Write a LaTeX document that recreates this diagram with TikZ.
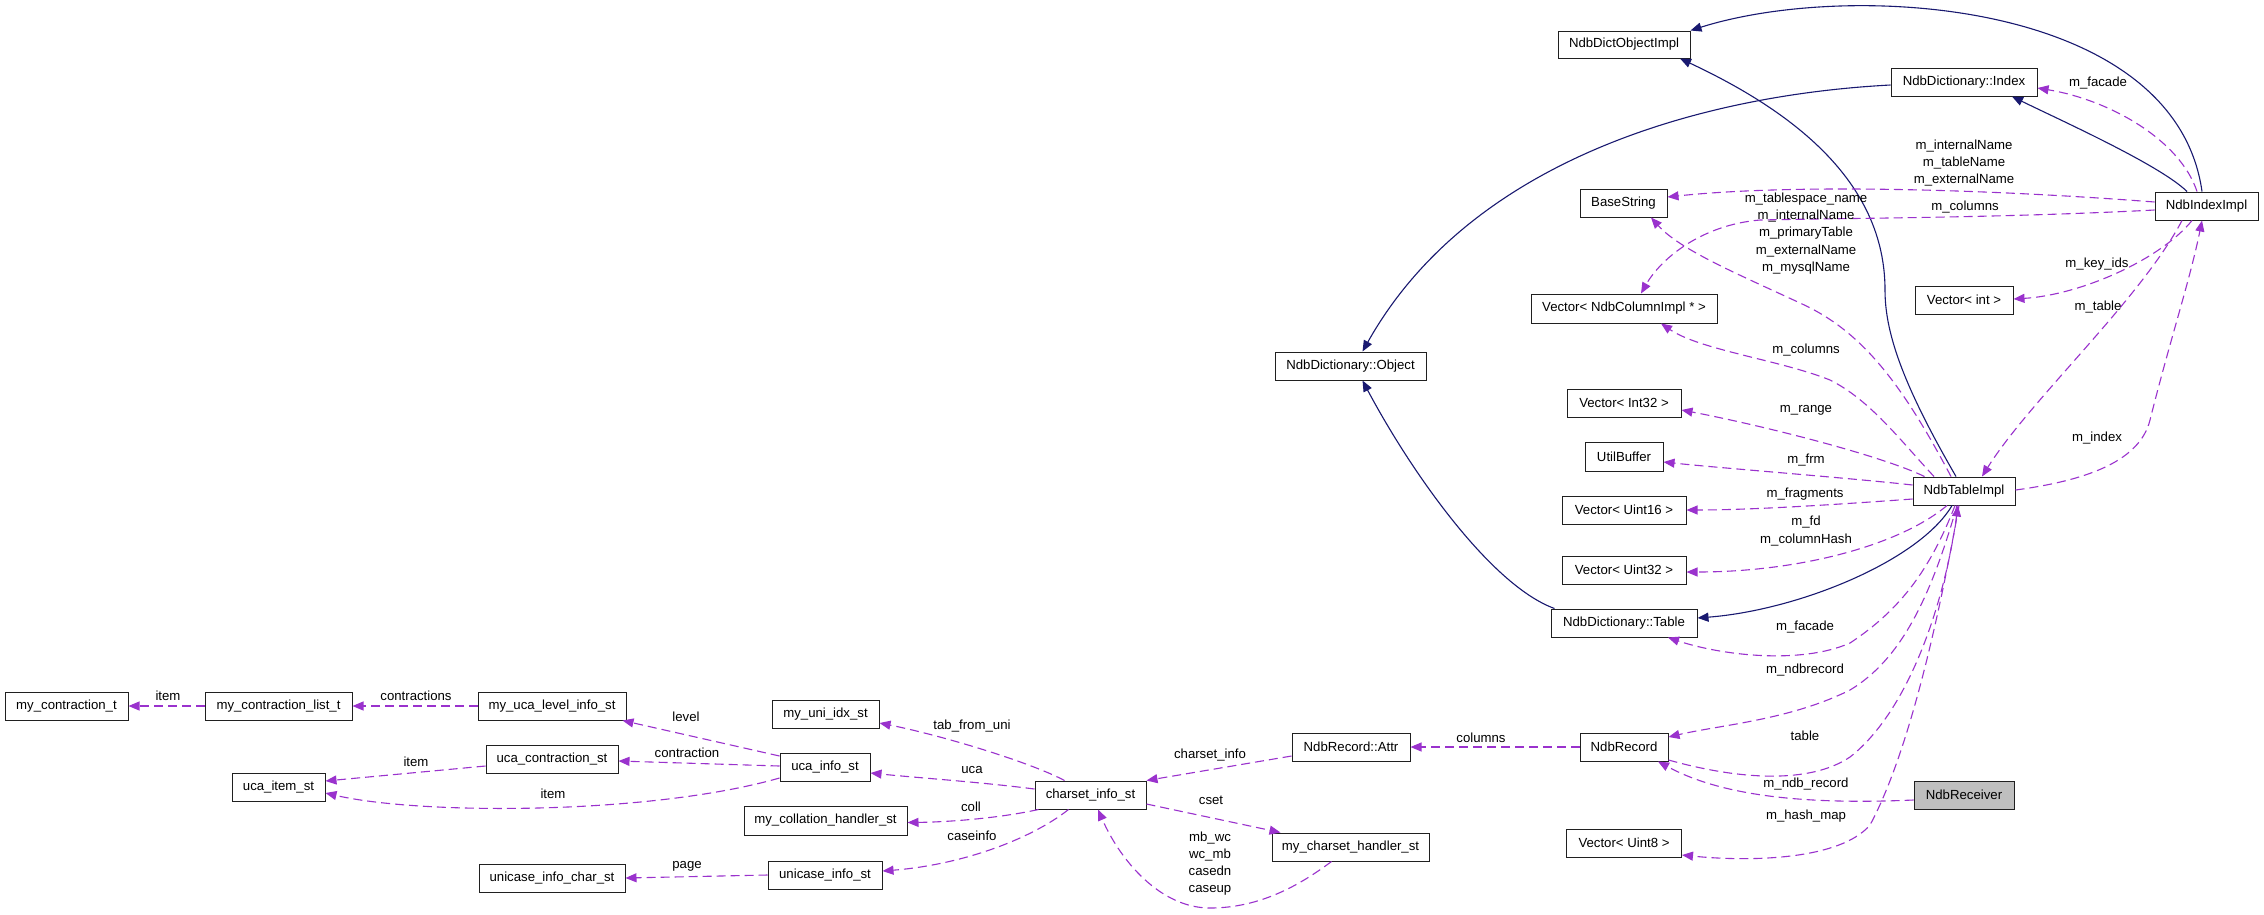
\documentclass[tikz,border=0pt]{standalone}
\usepackage{fontspec}
\setmainfont{Liberation Sans}
\usetikzlibrary{arrows.meta}
\definecolor{usecol}{HTML}{9A32CD}
\definecolor{inhcol}{HTML}{191970}
\definecolor{recvgray}{HTML}{BFBFBF}
\definecolor{boxline}{HTML}{202020}
\begin{document}
\begin{tikzpicture}[x=1pt,y=-1pt,
  box/.style={draw=boxline, line width=1pt, fill=white, minimum height=28pt, inner sep=0pt, font=\fontsize{13.2}{15}\selectfont},
  lbl/.style={font=\fontsize{13.2}{17.2}\selectfont, align=center, inner sep=0pt},
  inh/.style={draw=inhcol, line width=1.1pt, -{Triangle[length=11pt,width=9pt]}},
  use/.style={draw=usecol, line width=1.1pt, dash pattern=on 9pt off 5pt, -{Triangle[length=11pt,width=9pt]}}]
\useasboundingbox (0,0) rectangle (2264,914);
\fill[white] (0,0) rectangle (2264,914);

% nodes
\node[box, minimum width=132pt, minimum height=27pt] (dictobj) at (1624,44.5) {NdbDictObjectImpl};
\node[box, minimum width=146pt] (idx) at (1964,82) {NdbDictionary::Index};
\node[box, minimum width=87pt] (base) at (1623.5,203) {BaseString};
\node[box, minimum width=103pt] (idximpl) at (2206.5,206) {NdbIndexImpl};
\node[box, minimum width=186pt, minimum height=29pt] (vcol) at (1624,308.5) {Vector< NdbColumnImpl * >};
\node[box, minimum width=98pt] (vint) at (1964,300) {Vector< int >};
\node[box, minimum width=151pt] (obj) at (1350.5,366) {NdbDictionary::Object};
\node[box, minimum width=114pt] (vi32) at (1624,403) {Vector< Int32 >};
\node[box, minimum width=78pt, minimum height=29pt] (util) at (1624,456.5) {UtilBuffer};
\node[box, minimum width=124pt] (vu16) at (1624,510) {Vector< Uint16 >};
\node[box, minimum width=124pt] (vu32) at (1624,570) {Vector< Uint32 >};
\node[box, minimum width=102pt] (tabimpl) at (1964,491) {NdbTableImpl};
\node[box, minimum width=146pt] (table) at (1624,623) {NdbDictionary::Table};
\node[box, minimum width=118pt] (attr) at (1351,747) {NdbRecord::Attr};
\node[box, minimum width=88pt] (rec) at (1624,747) {NdbRecord};
\node[box, minimum width=100pt, fill=recvgray] (recv) at (1964,795) {NdbReceiver};
\node[box, minimum width=115pt] (vu8) at (1624,843) {Vector< Uint8 >};
\node[box, minimum width=157pt] (chh) at (1350.5,847) {my\_charset\_handler\_st};
\node[box, minimum width=107pt] (uni) at (825.5,714) {my\_uni\_idx\_st};
\node[box, minimum width=90pt] (uca) at (825,767) {uca\_info\_st};
\node[box, minimum width=111pt] (cs) at (1090.5,795) {charset\_info\_st};
\node[box, minimum width=163pt, minimum height=29pt] (coll) at (825.5,820.5) {my\_collation\_handler\_st};
\node[box, minimum width=114pt] (ucase) at (825,875) {unicase\_info\_st};
\node[box, minimum width=123pt] (ct) at (66.5,706) {my\_contraction\_t};
\node[box, minimum width=147pt] (ctl) at (278.5,706) {my\_contraction\_list\_t};
\node[box, minimum width=148pt] (lvl) at (552,706) {my\_uca\_level\_info\_st};
\node[box, minimum width=132pt] (ucon) at (552,759) {uca\_contraction\_st};
\node[box, minimum width=93pt] (item) at (278.5,787) {uca\_item\_st};
\node[box, minimum width=146pt] (uchar) at (552,878) {unicase\_info\_char\_st};

% inheritance
\draw[inh] ([xshift=-4.5pt]idximpl.north) .. controls (2175,0) and (1850,-20) .. (dictobj.north east);
\draw[inh] ([xshift=-19.5pt]idximpl.north) .. controls (2160,165) and (2060,120) .. ([xshift=48pt]idx.south);
\draw[inh] ([yshift=-3pt]idx.west) .. controls (1700,95) and (1470,160) .. ([xshift=12pt]obj.north);
\draw[inh] ([xshift=-8pt]tabimpl.north) .. controls (1900,380) and (1885,330) .. (1885,290) .. controls (1885,180) and (1790,110) .. ([xshift=56pt]dictobj.south);
\draw[inh] ([xshift=-12pt]tabimpl.south) .. controls (1920,560) and (1800,610) .. ([yshift=5pt]table.east);
\draw[inh] ([xshift=4pt]table.north west) .. controls (1490,585) and (1410,470) .. ([xshift=12pt]obj.south);

% usage
\draw[use] ([xshift=-9.5pt]idximpl.north) .. controls (2180,140) and (2110,100) .. ([yshift=-6pt]idx.east);
\draw[use] ([yshift=4pt]idximpl.west) .. controls (2000,190) and (1800,183) .. ([yshift=6pt]base.east);
\draw[use] ([yshift=-4pt]idximpl.west) .. controls (2000,218) and (1850,218) .. (1760,220) .. controls (1700,225) and (1660,260) .. ([xshift=17pt]vcol.north);
\draw[use] ([xshift=-14.5pt]idximpl.south) .. controls (2160,260) and (2080,295) .. ([yshift=1pt]vint.east);
\draw[use] ([xshift=-24.5pt]idximpl.south) .. controls (2140,300) and (2030,400) .. ([xshift=18pt]tabimpl.north);
\draw[use] ([yshift=1pt]tabimpl.east) .. controls (2090,480) and (2140,460) .. (2150,420) .. controls (2170,340) and (2190,280) .. ([xshift=-4.5pt]idximpl.south);
\draw[use] ([xshift=-13pt]tabimpl.north) .. controls (1900,380) and (1860,330) .. (1800,303) .. controls (1740,275) and (1680,250) .. ([xshift=27.5pt]base.south);
\draw[use] ([xshift=-30pt]tabimpl.north) .. controls (1900,440) and (1870,400) .. (1830,380) .. controls (1780,360) and (1700,350) .. ([xshift=37pt]vcol.south);
\draw[use] ([xshift=12pt]tabimpl.north west) .. controls (1880,455) and (1760,425) .. ([yshift=-7pt]vi32.east);
\draw[use] ([yshift=6pt]tabimpl.west) .. controls (1850,478) and (1720,468) .. ([yshift=-5.5pt]util.east);
\draw[use] ([yshift=-8pt]tabimpl.west) .. controls (1830,505) and (1750,510) .. (vu16.east);
\draw[use] ([xshift=-17pt]tabimpl.south) .. controls (1900,545) and (1800,572) .. ([yshift=-2pt]vu32.east);
\draw[use] ([xshift=-9pt]tabimpl.south) .. controls (1930,570) and (1900,610) .. (1850,643) .. controls (1800,665) and (1720,655) .. ([xshift=44pt]table.south);
\draw[use] ([xshift=-7pt]tabimpl.south) .. controls (1930,600) and (1900,660) .. (1850,690) .. controls (1790,720) and (1720,725) .. ([yshift=10pt]rec.east);
\draw[use] ([yshift=-13pt]rec.east) .. controls (1740,780) and (1810,784) .. (1850,757) .. controls (1910,710) and (1945,600) .. ([xshift=-6pt]tabimpl.south);
\draw[use] ([yshift=-5pt]recv.west) .. controls (1800,805) and (1720,795) .. ([xshift=34pt]rec.south);
\draw[use] ([xshift=-5pt]tabimpl.south) .. controls (1935,640) and (1905,760) .. (1870,825) .. controls (1840,860) and (1750,862) .. ([yshift=-12pt]vu8.east);

\draw[use] (rec.west) -- (attr.east);
\draw[use] ([yshift=-9pt]attr.west) -- (cs.north east);
\draw[use] ([yshift=-9pt]cs.east) -- ([xshift=-70pt]chh.north);
\draw[use] ([xshift=-19pt]chh.south) .. controls (1300,885) and (1260,908) .. (1210,908) .. controls (1160,908) and (1120,860) .. ([xshift=7.5pt]cs.south);
\draw[use] ([xshift=-26pt]cs.north) .. controls (1030,762) and (940,735) .. ([yshift=-9pt]uni.east);
\draw[use] ([yshift=6pt]cs.west) .. controls (980,782) and (920,778) .. ([yshift=-6pt]uca.east);
\draw[use] ([xshift=4pt]cs.south west) .. controls (1000,818) and (950,822) .. ([yshift=-2pt]coll.east);
\draw[use] ([xshift=-22pt]cs.south) .. controls (1030,840) and (960,865) .. ([yshift=4pt]ucase.east);
\draw[use] ([yshift=11pt]uca.west) -- ([xshift=-4pt]lvl.south east);
\draw[use] ([yshift=1pt]uca.west) -- ([yshift=-2pt]ucon.east);
\draw[use] ([yshift=-11pt]uca.west) .. controls (650,815) and (420,815) .. ([yshift=-6pt]item.east);
\draw[use] ([yshift=-7pt]ucon.west) -- ([yshift=6pt]item.east);
\draw[use] (lvl.west) -- (ctl.east);
\draw[use] (ctl.west) -- (ct.east);
\draw[use] (ucase.west) -- (uchar.east);

% labels
\node[lbl] (l1) at (2098,83) {m\_facade};
\node[lbl] (l2) at (1964,163) {m\_internalName\\m\_tableName\\m\_externalName};
\node[lbl] (l3) at (1965,207) {m\_columns};
\node[lbl] (l4) at (1806,233.5) {m\_tablespace\_name\\m\_internalName\\m\_primaryTable\\m\_externalName\\m\_mysqlName};
\node[lbl] (l5) at (2097,264) {m\_key\_ids};
\node[lbl] (l6) at (2098,307) {m\_table};
\node[lbl] (l7) at (1806,350) {m\_columns};
\node[lbl] (l8) at (1806,410) {m\_range};
\node[lbl] (l9) at (2097,438) {m\_index};
\node[lbl] (l10) at (1806,460) {m\_frm};
\node[lbl] (l11) at (1805,494) {m\_fragments};
\node[lbl] (l12) at (1806,531) {m\_fd\\m\_columnHash};
\node[lbl] (l13) at (1805,627) {m\_facade};
\node[lbl] (l14) at (1805,670) {m\_ndbrecord};
\node[lbl] (l15) at (1481,738) {columns};
\node[lbl] (l16) at (1805,736) {table};
\node[lbl] (l17) at (1806,784) {m\_ndb\_record};
\node[lbl] (l18) at (1806,816) {m\_hash\_map};
\node[lbl] (l19) at (1210,755) {charset\_info};
\node[lbl] (l20) at (1211,800) {cset};
\node[lbl] (l21) at (1210,863.5) {mb\_wc\\wc\_mb\\casedn\\caseup};
\node[lbl] (l22) at (972,726) {tab\_from\_uni};
\node[lbl] (l23) at (972,770) {uca};
\node[lbl] (l24) at (971,807) {coll};
\node[lbl] (l25) at (972,836) {caseinfo};
\node[lbl] (l26) at (168,696) {item};
\node[lbl] (l27) at (416,696) {contractions};
\node[lbl] (l28) at (686,717) {level};
\node[lbl] (l29) at (687,753) {contraction};
\node[lbl] (l30) at (416,762) {item};
\node[lbl] (l31) at (553,794) {item};
\node[lbl] (l32) at (687,866) {page};
\end{tikzpicture}
\end{document}
